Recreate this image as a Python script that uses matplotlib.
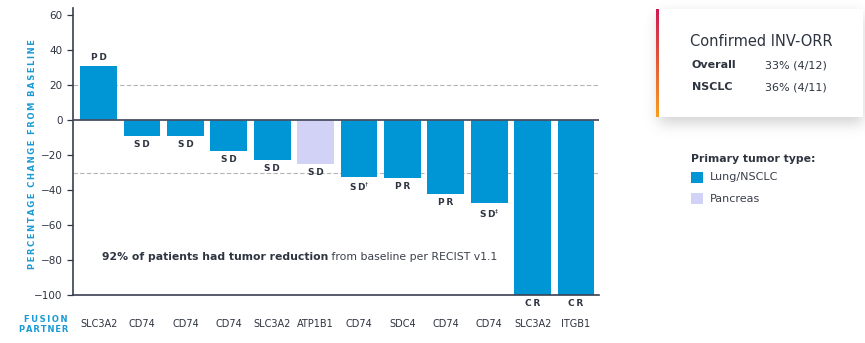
import numpy as np
import matplotlib
matplotlib.use("Agg")
import matplotlib.pyplot as plt
from matplotlib.patches import Rectangle

# ---- data -------------------------------------------------------------
partners = ["SLC3A2", "CD74", "CD74", "CD74", "SLC3A2", "ATP1B1",
            "CD74", "SDC4", "CD74", "CD74", "SLC3A2", "ITGB1"]
change = [31, -9, -9, -17.5, -23, -25, -32.5, -33, -42, -47.5, -100, -100]
response = ["PD", "SD", "SD", "SD", "SD", "SD", "SD†", "PR", "PR", "SD‡", "CR", "CR"]
tumor = ["Lung/NSCLC"] * 5 + ["Pancreas"] + ["Lung/NSCLC"] * 6
yticks = [-100, -80, -60, -40, -20, 0, 20, 40, 60]
ref_lines = [20, -30]

colors = {"Lung/NSCLC": "#0096d6", "Pancreas": "#d2d2f7"}
BLUE_TXT = "#1a9ad6"
DARK = "#2e3440"

W, H = 865, 343
fig = plt.figure(figsize=(W / 100, H / 100), dpi=100)


def fx(x):
    return x / W


def fy(y):
    return 1 - y / H


def spaced(s, sep="\u2009"):
    return sep.join(list(s))


ax = fig.add_axes([fx(73), fy(295), (599 - 73) / W, (295 - 8) / H])
x = np.arange(len(change))
ax.bar(x, change, width=0.85, color=[colors[t] for t in tumor], zorder=2)
ax.set_xlim(-0.59, 11.53)
ax.set_ylim(-100, 64)

ax.axhline(0, color="#4a5062", lw=1.3, zorder=3)
for v in ref_lines:
    ax.axhline(v, color="#b5b5b5", lw=0.8, ls=(0, (4, 2)), zorder=1)

for s in ["top", "right"]:
    ax.spines[s].set_visible(False)
for s in ["left", "bottom"]:
    ax.spines[s].set_color("#3a4050")
    ax.spines[s].set_linewidth(1.2)

ax.set_yticks(yticks)
ax.tick_params(axis="y", labelsize=7.5, colors=DARK, length=4, width=0.9)
ax.set_xticks(x)
ax.set_xticklabels(partners)
ax.tick_params(axis="x", labelsize=7, colors=DARK, length=0, pad=17)

# response labels
for xi, v, r in zip(x, change, response):
    base = r.rstrip("†‡")
    sup = r[len(base):]
    label = spaced(base)
    if sup:
        label += "$^{\\dagger}$" if sup == "†" else "$^{\\ddagger}$"
    if v >= 0:
        ax.annotate(label, (xi, v), xytext=(0, 3), textcoords="offset points",
                    ha="center", va="bottom", fontsize=6.5, fontweight="bold",
                    color=DARK)
    else:
        ax.annotate(label, (xi, v), xytext=(0, -3), textcoords="offset points",
                    ha="center", va="top", fontsize=6.5, fontweight="bold",
                    color=DARK, annotation_clip=False)

# summary sentence
t1 = ax.text(fx(102), fy(257), "92% of patients had tumor reduction",
             transform=fig.transFigure, fontsize=7.8, fontweight="bold",
             color=DARK, va="center", ha="left")
ax.annotate(" from baseline per RECIST v1.1", xy=(1, 0.5), xycoords=t1,
            va="center", ha="left", fontsize=7.8, color="#3a3f4a")

# axis captions
fig.text(fx(33), fy(154), spaced("PERCENTAGE") + "  " + spaced("CHANGE") + "  " +
         spaced("FROM") + "  " + spaced("BASELINE"),
         rotation=90, ha="center", va="center", fontsize=6, fontweight="bold",
         color=BLUE_TXT)
fig.text(fx(68), fy(319), spaced("FUSION"), ha="right", va="center",
         fontsize=6, fontweight="bold", color=BLUE_TXT)
fig.text(fx(68), fy(329), spaced("PARTNER", "\u200a"), ha="right", va="center",
         fontsize=6, fontweight="bold", color=BLUE_TXT)

# ---- ORR card with soft shadow -----------------------------------------
bx0, by0, bx1, by1 = 657, 9, 863, 117
ox0, oy0, ox1, oy1 = 620, 0, 865, 160
cw, ch = ox1 - ox0, oy1 - oy0
mask = np.zeros((ch, cw))
mask[by0 + 6 - oy0:by1 + 6 - oy0, bx0 + 2 - ox0:bx1 - ox0] = 1.0
sig = 7.0
k = np.arange(-25, 26)
g = np.exp(-k ** 2 / (2 * sig ** 2))
g /= g.sum()
blur = np.apply_along_axis(lambda r: np.convolve(r, g, mode="same"), 1, mask)
blur = np.apply_along_axis(lambda c: np.convolve(c, g, mode="same"), 0, blur)
rgba = np.zeros((ch, cw, 4))
rgba[..., :3] = 0.35
rgba[..., 3] = blur * 0.28
sax = fig.add_axes([fx(ox0), fy(oy1), cw / W, ch / H])
sax.imshow(rgba, extent=(ox0, ox1, oy1, oy0), aspect="auto", interpolation="bilinear")
sax.axis("off")
sax.add_patch(Rectangle((bx0, by0), bx1 - bx0, by1 - by0, facecolor="white",
                        edgecolor="none", zorder=3))
grad = np.linspace(0, 1, 100)[:, None]
c_top = np.array([0.80, 0.10, 0.33])
c_bot = np.array([0.97, 0.62, 0.12])
gimg = c_top[None, None, :] * (1 - grad[..., None]) + c_bot[None, None, :] * grad[..., None]
sax.imshow(gimg, extent=(bx0 - 1.2, bx0 + 1.2, by1, by0), aspect="auto", zorder=4)
sax.set_xlim(ox0, ox1)
sax.set_ylim(oy1, oy0)

fig.text(fx(690), fy(41), "Confirmed INV-ORR", fontsize=10.5, color=DARK,
         va="center", ha="left")
fig.text(fx(692), fy(65), "Overall", fontsize=8, fontweight="bold", color=DARK,
         va="center", ha="left")
fig.text(fx(765), fy(65), "33% (4/12)", fontsize=8, color=DARK, va="center", ha="left")
fig.text(fx(692), fy(87), "NSCLC", fontsize=8, fontweight="bold", color=DARK,
         va="center", ha="left")
fig.text(fx(765), fy(87), "36% (4/11)", fontsize=8, color=DARK, va="center", ha="left")

# ---- legend -------------------------------------------------------------
fig.text(fx(691), fy(159), "Primary tumor type:", fontsize=7.8, fontweight="bold",
         color=DARK, va="center", ha="left")
for i, name in enumerate(["Lung/NSCLC", "Pancreas"]):
    yc = 177 + i * 21.5
    fig.patches.append(Rectangle((fx(691), fy(yc + 5.5)), 12 / W, 11 / H,
                                 transform=fig.transFigure, facecolor=colors[name],
                                 edgecolor="none"))
    fig.text(fx(710), fy(yc), name, fontsize=8, color="#3a3f4a", va="center", ha="left")

fig.savefig("out.png", dpi=100, facecolor="white")
